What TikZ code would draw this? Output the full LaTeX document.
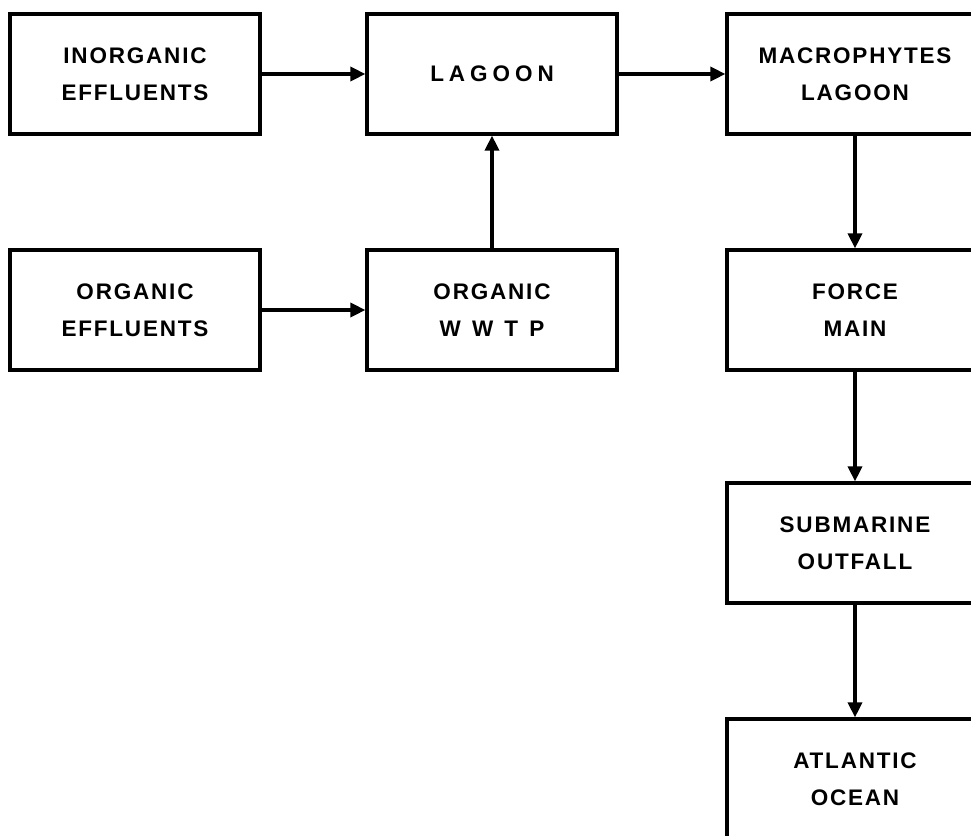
\documentclass[tikz,border=0pt]{standalone}
\usepackage{fontspec}
\usetikzlibrary{arrows.meta,positioning}
\newfontfamily\labfont{Liberation Sans}[LetterSpace=8]
\newfontfamily\widefont{Liberation Sans}[LetterSpace=22]
\begin{document}
\begin{tikzpicture}[x=1pt,y=-1pt,
  box/.style={draw=black,line width=3.2pt,minimum width=250pt,minimum height=120pt,
    inner sep=0pt,align=center,font=\labfont\bfseries\fontsize{22.5}{37}\selectfont},
  flow/.style={line width=3.4pt,-{Triangle[length=15pt,width=14pt]}}]
\useasboundingbox (0,0) rectangle (971,835);
\clip (0,0) rectangle (971,835);
% left column: sources
\node[box] (inorg) at (135,74) {INORGANIC\\EFFLUENTS};
\node[box] (org) at (135,310) {ORGANIC\\EFFLUENTS};
% middle column: treatment
\node[box,font=\widefont\bfseries\fontsize{22.5}{37}\selectfont] (lagoon) at (492,74) {LAGOON};
\node[box] (wwtp) at (492,310) {ORGANIC\\{\widefont W W T P}};
% right column: discharge chain
\node[box,minimum width=256pt] (macro) at (855,74) {MACROPHYTES\\LAGOON};
\node[box,minimum width=256pt] (force) at (855,310) {FORCE\\MAIN};
\node[box,minimum width=256pt] (outfall) at (855,543) {SUBMARINE\\OUTFALL};
\node[box,minimum width=256pt] (ocean) at (855,779) {ATLANTIC\\OCEAN};
% connectors
\draw[flow] (inorg.east) -- (lagoon.west);
\draw[flow] (org.east) -- (wwtp.west);
\draw[flow] (wwtp.north) -- (lagoon.south);
\draw[flow] (lagoon.east) -- (macro.west);
\draw[flow] (macro.south) -- (force.north);
\draw[flow] (force.south) -- (outfall.north);
\draw[flow] (outfall.south) -- (ocean.north);
\end{tikzpicture}
\end{document}
